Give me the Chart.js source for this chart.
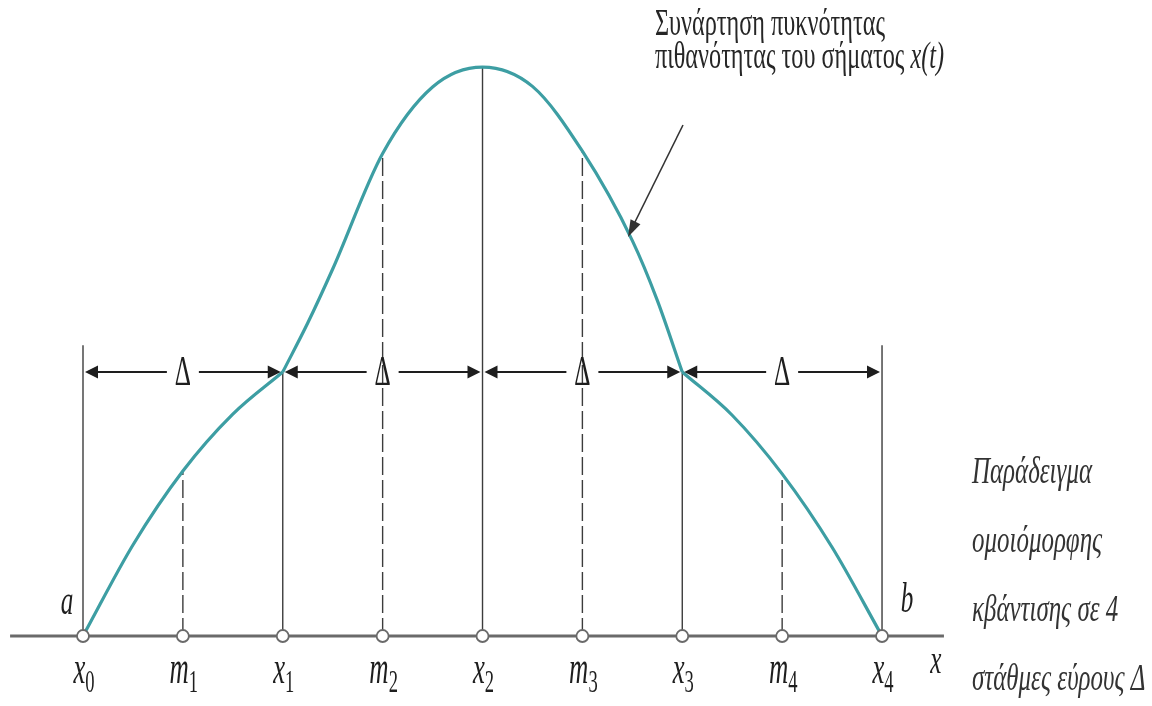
<!DOCTYPE html>
<html>
<head>
<meta charset="utf-8">
<script src="https://cdn.jsdelivr.net/npm/chart.js@4/dist/chart.umd.min.js"></script>
<style>
  html, body { margin: 0; padding: 0; background: #fff; }
  #wrap { width: 1152px; height: 706px; position: relative; }
</style>
</head>
<body>
<div id="wrap"><canvas id="chart"></canvas></div>
<script>
// positions on the x axis, in units of Δ/2
const tickPos = [0, 1, 2, 3, 4, 5, 6, 7, 8];
const tickMain = ["x", "m", "x", "m", "x", "m", "x", "m", "x"];
const tickSub = ["0", "1", "1", "2", "2", "3", "3", "4", "4"];

// decision levels x0..x4 (solid) and output levels m1..m4 (dashed)
const boundX = [0, 2, 4, 6, 8];
const boundTop = [0.511, 0.464, 1.0, 0.464, 0.511];
const levelX = [1, 3, 5, 7];
const levelTop = [0.29, 0.848, 0.852, 0.285];

// probability density curve
const curveX = [0, 0.5, 1.0, 1.5, 2.0, 2.25, 2.5, 3.0, 3.5, 4.0, 4.5, 5.0, 5.5, 5.75, 6.0, 6.5, 7.0, 7.5, 8.0];
const curveY = [0, 0.16, 0.29, 0.39, 0.464, 0.55, 0.645, 0.848, 0.965, 1.0, 0.966, 0.852, 0.695, 0.59, 0.464,
                0.388, 0.285, 0.156, 0];
// the curve has a corner at x1 and x3
const curveBreaks = [2, 6];

const deltaLevel = 0.464;
const deltaLabel = "Δ";
const axisRange = [-0.73, 8.62];

const curveTitle = ["Συνάρτηση πυκνότητας", "πιθανότητας του σήματος "];
const curveTitleVar = "x(t)";
const caption = ["Παράδειγμα", "ομοιόμορφης", "κβάντισης σε 4", "στάθμες εύρους Δ"];

const SERIF = "'Liberation Serif', 'DejaVu Serif', serif";
const lineColor = "#3c3c3c";

function drawText(ctx, s, x, y, font, sx, align) {
  ctx.save();
  ctx.font = font;
  const w = ctx.measureText(s).width * sx;
  let left = x;
  if (align === "center") left = x - w / 2;
  if (align === "right") left = x - w;
  ctx.translate(left, y);
  ctx.scale(sx, 1);
  ctx.textAlign = "left";
  ctx.textBaseline = "alphabetic";
  ctx.fillText(s, 0, 0);
  ctx.restore();
  return w;
}

function textWidth(ctx, s, font) {
  ctx.save();
  ctx.font = font;
  const w = ctx.measureText(s).width;
  ctx.restore();
  return w;
}

function arrowHead(ctx, x1, y1, x2, y2, len, half) {
  const a = Math.atan2(y2 - y1, x2 - x1);
  ctx.beginPath();
  ctx.moveTo(x2, y2);
  ctx.lineTo(x2 - len * Math.cos(a) + half * Math.sin(a), y2 - len * Math.sin(a) - half * Math.cos(a));
  ctx.lineTo(x2 - len * Math.cos(a) - half * Math.sin(a), y2 - len * Math.sin(a) + half * Math.cos(a));
  ctx.closePath();
  ctx.fill();
}

const annotations = {
  id: "annotations",
  afterDatasetsDraw(chart) {
    const ctx = chart.ctx;
    const xs = chart.scales.x, ys = chart.scales.y;
    const px = v => xs.getPixelForValue(v);
    const py = v => ys.getPixelForValue(v);
    ctx.save();
    ctx.fillStyle = "#1e1e1e";
    ctx.strokeStyle = "#1e1e1e";

    // Δ arrows between decision levels
    const ay = py(deltaLevel);
    ctx.lineWidth = 2;
    for (let i = 0; i < boundX.length - 1; i++) {
      const l = px(boundX[i]) + 2, r = px(boundX[i + 1]) - 2;
      const m = px(levelX[i]);
      ctx.beginPath();
      ctx.moveTo(l + 8, ay); ctx.lineTo(m - 16, ay);
      ctx.moveTo(m + 16, ay); ctx.lineTo(r - 8, ay);
      ctx.stroke();
      arrowHead(ctx, m, ay, l, ay, 13, 6.5);
      arrowHead(ctx, m, ay, r, ay, 13, 6.5);
      drawText(ctx, deltaLabel, m, ay + 13, "42px " + SERIF, 0.6, "center");
    }

    // tick labels with subscripts
    const base = py(0) + 47;
    for (let i = 0; i < tickPos.length; i++) {
      const mf = "italic 46px " + SERIF, sf = "32px " + SERIF, sx = 0.58;
      const w = (textWidth(ctx, tickMain[i], mf) + textWidth(ctx, tickSub[i], sf)) * sx;
      const left = px(tickPos[i]) - w / 2 + 1;
      const mw = drawText(ctx, tickMain[i], left, base, mf, sx, "left");
      drawText(ctx, tickSub[i], left + mw, base + 9, sf, sx, "left");
    }

    // end labels
    drawText(ctx, "a", px(0) - 16, py(0) - 22, "italic 42px " + SERIF, 0.6, "center");
    drawText(ctx, "b", px(8) + 25, py(0) - 24, "italic 42px " + SERIF, 0.6, "center");
    drawText(ctx, "x", px(axisRange[1]) - 8, base - 10, "italic 42px " + SERIF, 0.6, "center");

    // curve title with pointer
    ctx.fillStyle = "#262626";
    const tf = "38px " + SERIF;
    const tsx = 230 / textWidth(ctx, curveTitle[0], tf);
    drawText(ctx, curveTitle[0], 655, 35, tf, tsx, "left");
    const w2 = drawText(ctx, curveTitle[1], 655, 68, tf, tsx, "left");
    drawText(ctx, curveTitleVar, 655 + w2, 68, "italic 38px " + SERIF, tsx, "left");
    ctx.strokeStyle = "#333";
    ctx.fillStyle = "#333";
    ctx.lineWidth = 1.6;
    ctx.beginPath();
    ctx.moveTo(683, 125); ctx.lineTo(634, 224);
    ctx.stroke();
    arrowHead(ctx, 683, 125, 628, 237, 17, 5.5);

    // caption on the right
    ctx.fillStyle = "#333";
    const cf = "italic 38px " + SERIF;
    const csx = 120 / textWidth(ctx, caption[0], cf);
    caption.forEach((s, i) => drawText(ctx, s, 972, 483 + i * 69, cf, csx, "left"));
    ctx.restore();
  }
};

const datasets = [];
datasets.push({
  data: tickPos.map(x => ({ x: x, y: 0 })),
  showLine: false,
  pointRadius: 6,
  pointBackgroundColor: "#fff",
  pointBorderColor: "#6a6a6a",
  pointBorderWidth: 1.8,
  order: 0
});

// one smooth piece per stretch between the corners
const edges = [curveX[0], ...curveBreaks, curveX[curveX.length - 1]];
for (let k = 0; k < edges.length - 1; k++) {
  const pts = [];
  curveX.forEach((x, i) => {
    if (x >= edges[k] && x <= edges[k + 1]) pts.push({ x: x, y: curveY[i] });
  });
  datasets.push({
    data: pts,
    showLine: true,
    borderColor: "#3d9ea3",
    borderWidth: 3.2,
    pointRadius: 0,
    cubicInterpolationMode: "monotone",
    order: 1
  });
}

boundX.forEach((x, i) => datasets.push({
  data: [{ x: x, y: 0 }, { x: x, y: boundTop[i] }],
  showLine: true,
  borderColor: lineColor,
  borderWidth: 1.4,
  pointRadius: 0,
  order: 2
}));
levelX.forEach((x, i) => datasets.push({
  data: [{ x: x, y: 0 }, { x: x, y: levelTop[i] }],
  showLine: true,
  borderColor: lineColor,
  borderWidth: 1.4,
  borderDash: [18, 5],
  pointRadius: 0,
  order: 2
}));
datasets.push({
  data: [{ x: axisRange[0], y: 0 }, { x: axisRange[1], y: 0 }],
  showLine: true,
  borderColor: "#6a6a6a",
  borderWidth: 3,
  pointRadius: 0,
  order: 3
});

function build() {
  new Chart(document.getElementById("chart"), {
    type: "scatter",
    data: { datasets: datasets },
    options: {
      responsive: true,
      maintainAspectRatio: false,
      animation: false,
      layout: { padding: 0, autoPadding: false },
      plugins: { legend: { display: false }, tooltip: { enabled: false } },
      scales: {
        x: { type: "linear", display: false, min: -0.831, max: 10.703 },
        y: { type: "linear", display: false, min: -0.123, max: 1.1178 }
      }
    },
    plugins: [annotations]
  });
}

Promise.all([
  document.fonts.load("38px 'Liberation Serif'", "Σx"),
  document.fonts.load("italic 38px 'Liberation Serif'", "Πx")
]).then(build, build);
</script>
</body>
</html>
